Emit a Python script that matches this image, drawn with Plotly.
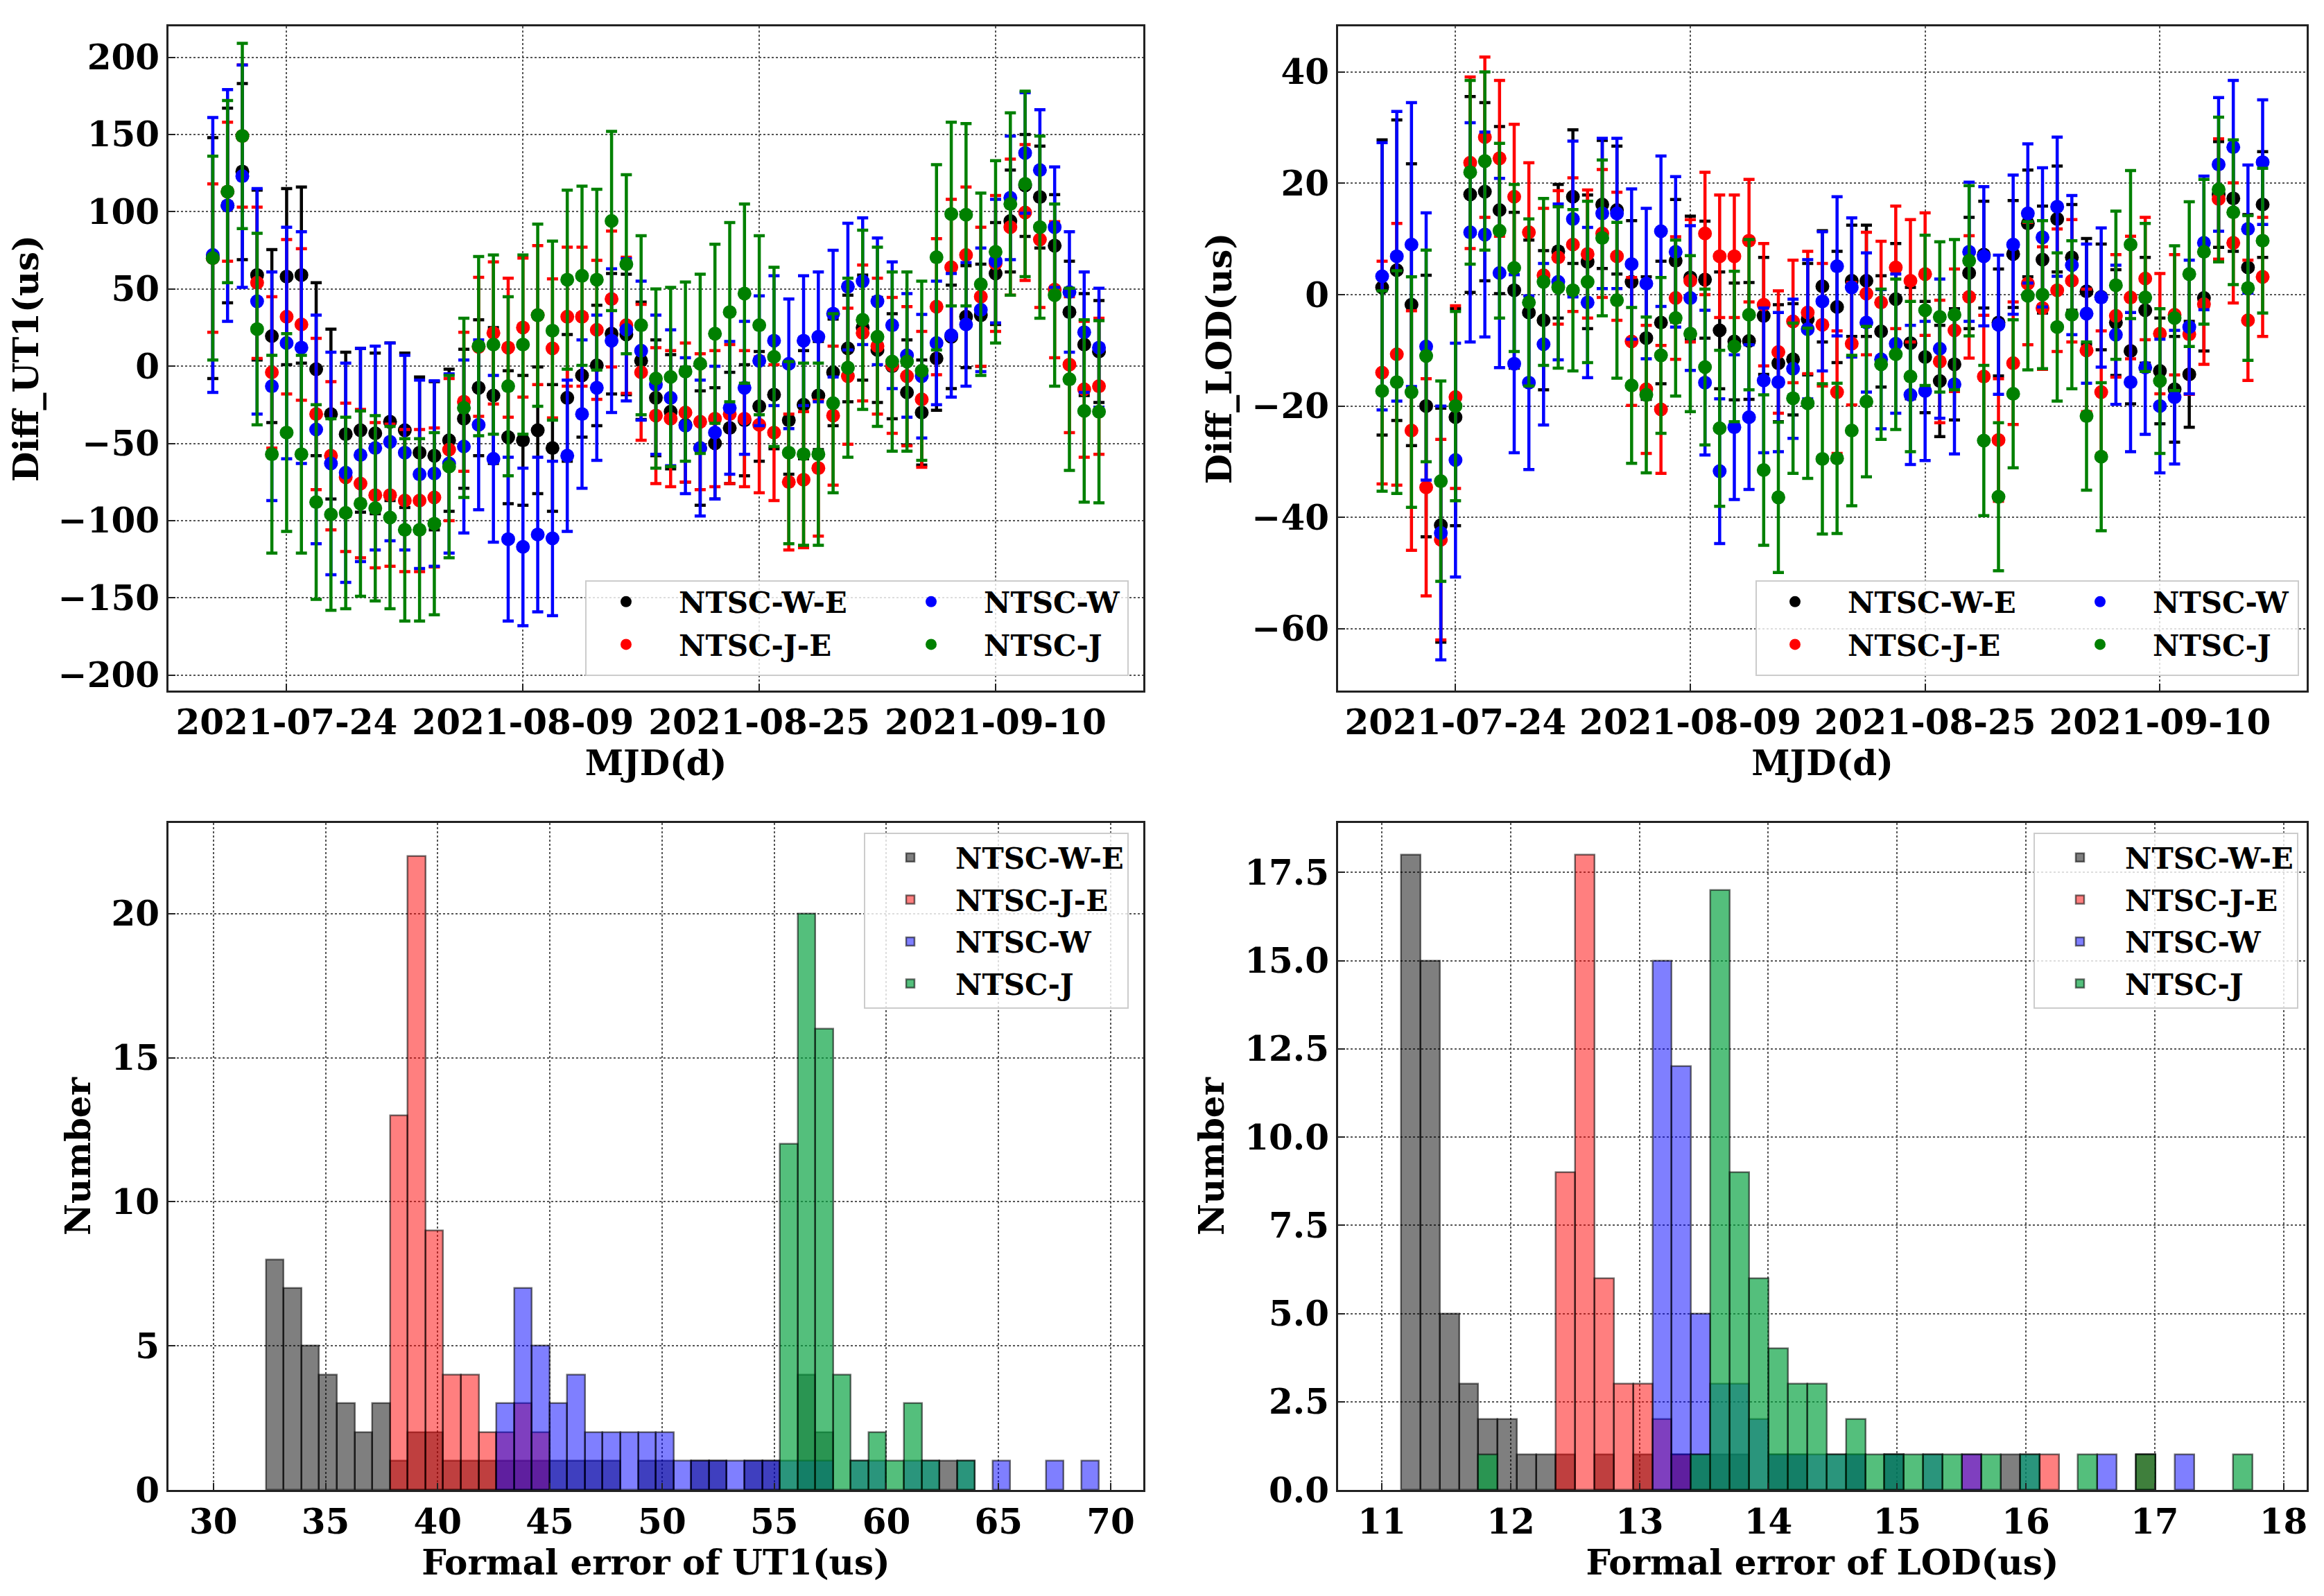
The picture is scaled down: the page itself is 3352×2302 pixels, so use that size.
import pandas as pd
import plotly.graph_objects as go

# =============================================================================
# Data
# =============================================================================

DATES = pd.date_range("2021-07-19", "2021-09-17", freq="D")
DATE_TICKS = ["2021-07-24", "2021-08-09", "2021-08-25", "2021-09-10"]

SERIES = ["NTSC-W-E", "NTSC-J-E", "NTSC-W", "NTSC-J"]

# Diff UT1 (us)
UT1_WE = [70, 104, 126, 59, 19.5, 58, 59, -2, -31, -44,
          -41.5, -43.5, -36, -41.5, -56, -58, -48, -34, -14, -19,
          -46, -48, -41.5, -53, -20.5, -6, 0.5, 21, 20.5, 3.5,
          -20.5, -29.5, -38, -53, -50, -40, -35, -26, -18.5, -35,
          -25, -19, -4, 11.5, 25, 10.5, 0, -17, -30, 5,
          19, 32, 33, 60, 94, 117, 109.5, 78, 35, 14,
          9.5]
UT1_JE = [70, 113, 149, 54, -4, 32, 27, -31, -58, -72,
          -76, -83.5, -83.5, -87, -87, -85, -54, -23, 12.5, 21.5,
          12, 25, 33, 11.5, 32, 32, 23.5, 43.5, 26.5, -4,
          -32, -34, -30, -36, -34, -31, -34, -38, -43, -75,
          -73.5, -66, -32, -6.5, 21.5, 13, 0.5, -6.5, -21.5, 38.5,
          64, 72, 45, 66.5, 90, 99.5, 82, 49.5, 1, -15,
          -13]
UT1_W = [72, 104, 123, 42, -13, 15, 12, -41, -63, -69,
         -57.5, -53, -49, -56, -70, -69.5, -63, -52, -38, -60,
         -112, -117, -109, -111.5, -58, -31, -14, 16.5, 23.5, 10,
         -12, -20.5, -38.5, -53, -43, -27, -14, 3.5, 16.5, 1.5,
         16.5, 19, 34, 51.5, 55, 42, 26.5, 7, -6.5, 15,
         20, 27, 36.5, 68, 109, 138, 127, 90, 48, 22,
         12]
UT1_J = [70, 113, 149, 24, -57, -43, -57, -88, -96, -95,
         -89, -92, -98, -106, -106, -102, -65, -27, 13, 14,
         -13, 14, 33, 23, 56, 58.5, 56, 94, 66, 26.5,
         -8, -7, -3.5, 1.5, 21, 35, 47, 26.5, 6, -56,
         -57, -57, -24, -1, 30, 19, 3, 3, -3, 70.5,
         98.5, 98, 53, 74, 105, 118, 90, 46, -8.5, -29,
         -29.5]

ERR_UT1_WE = [78, 63, 57, 55, 56, 57, 57, 56, 55, 53,
              53, 52, 51, 50, 49, 48, 46, 45, 44, 44,
              43, 42, 41, 41, 41, 40, 39, 39, 39, 38,
              37.5, 37, 37, 37, 36, 36, 36, 35.5, 35, 35,
              35, 35, 34.5, 34.5, 34, 34, 34, 34, 34, 33.5,
              33.5, 33, 33, 33, 33, 33, 33, 33, 33, 33,
              33]
ERR_UT1_JE = [48, 45, 46, 49, 49, 50, 49, 49, 48, 48,
              48, 47, 46, 46, 46, 45, 46, 45, 45, 46,
              45, 45, 45, 45, 45, 45, 45, 44, 44, 44,
              44, 44, 45, 44, 44, 45, 44, 44, 44, 44,
              44, 44, 45, 44, 44, 44, 44, 45, 44, 44,
              44, 44, 45, 44, 44, 44, 44, 44, 44, 44,
              44]
ERR_UT1_W = [89, 75, 72, 73, 74, 75, 75, 74, 72, 71,
             69, 66, 64, 63, 61, 60, 58, 56, 55, 54,
             53, 51, 50, 50, 49, 48, 47, 46.5, 46, 45,
             45, 44, 44, 44, 43, 43, 43, 42, 42, 42,
             42, 42, 41, 41, 41, 41, 41, 40, 40, 40,
             40, 40, 40, 40, 40, 39, 39, 39, 39, 39,
             38.5]
ERR_UT1_J = [66, 59, 60, 62, 64, 64, 64, 63, 62, 62,
             60, 60, 59, 59, 59, 59, 59, 58, 58, 58,
             58, 58, 59, 58, 58, 58, 58.5, 58, 58, 58,
             58, 58, 58, 58, 58, 58, 58, 58, 58, 59,
             59, 59, 58, 58, 58, 58, 58, 58, 58, 60,
             59.5, 59, 59, 59, 59, 60, 59, 59, 59, 59,
             59]

# Diff LOD (us)
LOD_WE = [1.3, 4.4, -1.8, -20, -41.4, -22, 18, 18.5, 15.2, 0.8,
          -3.2, -4.6, 7.8, 17.6, 5.9, 16.2, 15.2, 2.3, -7.8, -5,
          6.1, 3.1, 2.7, -6.4, -8.4, -8.3, -3.8, -12.3, -11.6, -4.4,
          1.5, -2.2, 2.5, 2.5, -6.6, -0.8, -8.7, -11.2, -15.5, -12.5,
          3.9, 7.2, -5, 7.3, 12.8, 6.3, 13.6, 6.7, 0.6, -0.4,
          -5, -10.1, -2.8, -13.7, -17, -14.3, -0.6, 18, 17.3, 4.9,
          16.2]
LOD_JE = [-14, -10.7, -24.4, -34.6, -44, -18.4, 23.7, 28.3, 24.5, 17.6,
          11.2, 3.5, 6.7, 9, 7.3, 11, 6.9, -8.4, -17, -20.6,
          -0.6, 2.5, 11, 6.9, 6.9, 9.7, -1.8, -10.3, -4.8, -3.2,
          -5.4, -17.5, -8.8, 0.2, -1.4, 4.9, 2.5, 3.7, -12, -6.4,
          -0.4, -14.7, -26.1, -12.3, 2, -2.4, 0.8, 2.5, -10, -17.5,
          -3.8, -0.5, 2.9, -7, -3.6, -7.1, -1.7, 17.2, 9.3, -4.6,
          3.2]
LOD_W = [3.3, 6.9, 9, -9.3, -42.8, -29.7, 11.2, 10.8, 3.9, -12.4,
         -15.8, -8.9, 2.3, 13.6, -1.4, 14.6, 14.6, 5.5, 2, 11.4,
         7.7, -0.6, -15.8, -31.7, -23.8, -22, -15.4, -15.7, -13.3, -6.2,
         -1.2, 5.1, 1.3, -5, -11.6, -8.8, -18, -17.3, -9.7, -16.1,
         7.7, 6.9, -5.4, 9, 14.6, 10.3, 15.8, 5.3, -3.4, -0.5,
         -7.2, -15.7, -13.1, -20, -18.4, -5.8, 9.3, 23.4, 26.5, 11.8,
         23.8]
LOD_J = [-17.3, -15.7, -17.5, -11, -33.5, -20, 22, 24, 11.5, 4.8,
         -1.4, 2.3, 1.3, 0.8, 2.3, 10.2, -1, -16.3, -18, -10.9,
         -4.2, -7, -13, -24, -9.3, -3.6, -31.5, -36.4, -18.6, -19.5,
         -29.5, -29.4, -24.4, -19.2, -12.5, -10.7, -14.7, -2.8, -4, -3.6,
         6.1, -26.2, -36.3, -17.8, -0.2, 0, -5.8, -3.6, -21.8, -29.1,
         1.7, 9, -0.5, -15.5, -4.2, 3.7, 7.7, 18.9, 14.8, 1.2,
         9.7]

ERR_LOD_WE = [26.5, 27, 25.3, 23.5, 21, 19.5, 17.6, 16, 15, 14,
              13, 12.5, 12, 12, 12, 11.5, 11.5, 11, 11, 11,
              11, 11, 10.5, 10.5, 10.5, 10.5, 10.5, 10.5, 10, 10,
              10, 10, 10, 10, 10, 10, 10, 10, 10, 10,
              10, 9.6, 9.6, 9.6, 9.6, 9.6, 9.5, 9.5, 9.5, 9.5,
              9.5, 9.5, 9.5, 9.5, 9.5, 9.5, 9.5, 9.5, 9.5, 9.5,
              9.5]
ERR_LOD_JE = [20, 23.5, 21.5, 19.5, 18, 16.4, 15.4, 14.4, 14, 13,
              12.5, 12, 12, 12, 11.5, 11.5, 11.5, 11.5, 11.5, 11.5,
              11, 11, 11, 11, 11, 11, 11, 11, 11, 11,
              11, 11, 11, 11, 11, 11, 11, 11, 11, 11,
              11, 11, 11, 11, 11, 11, 11, 11, 11, 11,
              11, 11, 11, 10.8, 10.8, 10.8, 10.8, 10.8, 10.8, 10.8,
              10.7]
ERR_LOD_W = [24, 26, 25.5, 24, 22.8, 21, 19.7, 18.4, 17, 16,
             15.6, 14.5, 14, 14, 13.5, 13.5, 13.5, 13.5, 13.5, 13.5,
             13.5, 13, 13, 13, 13, 13, 13, 12.5, 12.5, 12.5,
             12.5, 12.5, 12.5, 12.5, 12.5, 12.5, 12.5, 12.5, 12.5, 12.5,
             12.5, 12.5, 12.5, 12.5, 12.5, 12.5, 12.5, 12.5, 12.5, 12.5,
             12.5, 12.5, 12, 12, 12, 12, 12, 12, 12, 11.5,
             11.2]
ERR_LOD_J = [18, 20, 20.7, 19, 18, 17, 16.5, 16, 15.7, 15,
             15, 15, 14.5, 14.5, 14.5, 14, 14, 14, 14, 14,
             14, 14, 14, 14, 13.5, 13.5, 13.5, 13.5, 13.5, 13.5,
             13.5, 13.5, 13.5, 13.5, 13.5, 13.5, 13.5, 13.5, 13.5, 13.5,
             13.5, 13.5, 13.3, 13.3, 13.3, 13.3, 13.3, 13.3, 13.3, 13.3,
             13.3, 13.3, 13.3, 13, 13, 13, 13, 13, 13, 13,
             13]

# Histogram of UT1 formal error: 50 bins of 0.79 us starting at 29.98 us
UT1_BIN_START = 29.98
UT1_BIN_WIDTH = 0.79
HIST_UT1_WE = [0, 0, 0, 8, 7, 5, 4, 3, 2, 3,
               1, 2, 2, 1, 1, 1, 1, 1, 1, 1,
               1, 1, 1, 0, 1, 1, 0, 1, 1, 0,
               1, 1, 0, 4, 2, 0, 0, 0, 0, 0,
               0, 1, 0, 0, 0, 0, 0, 0, 0, 0]
HIST_UT1_JE = [0, 0, 0, 0, 0, 0, 0, 0, 0, 0,
               13, 22, 9, 4, 4, 2, 2, 3, 2, 0,
               0, 0, 0, 0, 0, 0, 0, 0, 0, 0,
               0, 0, 0, 0, 0, 0, 0, 0, 0, 0,
               0, 0, 0, 0, 0, 0, 0, 0, 0, 0]
HIST_UT1_W = [0, 0, 0, 0, 0, 0, 0, 0, 0, 0,
              0, 0, 0, 0, 0, 0, 3, 7, 5, 3,
              4, 2, 2, 2, 2, 2, 1, 1, 1, 1,
              1, 1, 1, 1, 1, 0, 1, 1, 0, 1,
              1, 0, 1, 0, 1, 0, 0, 1, 0, 1]
HIST_UT1_J = [0, 0, 0, 0, 0, 0, 0, 0, 0, 0,
              0, 0, 0, 0, 0, 0, 0, 0, 0, 0,
              0, 0, 0, 0, 0, 0, 0, 0, 0, 0,
              0, 0, 12, 20, 16, 4, 1, 2, 1, 3,
              1, 0, 1, 0, 0, 0, 0, 0, 0, 0]

# Histogram of LOD formal error: 44 bins of 0.1502 us starting at 11.149 us
LOD_BIN_START = 11.149
LOD_BIN_WIDTH = 0.1502
HIST_LOD_WE = [18, 15, 5, 3, 2, 2, 1, 1, 1, 0,
               1, 0, 1, 0, 1, 1, 1, 1, 0, 1,
               1, 0, 0, 1, 0, 1, 0, 0, 0, 0,
               0, 1, 0, 0, 0, 0, 0, 0, 1, 0,
               0, 0, 0, 0]
HIST_LOD_JE = [0, 0, 0, 0, 0, 0, 0, 0, 9, 18,
               6, 3, 3, 2, 1, 0, 0, 0, 0, 0,
               0, 0, 0, 0, 0, 0, 0, 0, 0, 1,
               0, 0, 0, 1, 0, 0, 0, 0, 1, 0,
               0, 0, 0, 0]
HIST_LOD_W = [0, 0, 0, 0, 0, 0, 0, 0, 0, 0,
              0, 0, 0, 15, 12, 5, 3, 3, 2, 1,
              1, 1, 1, 1, 0, 1, 0, 1, 0, 1,
              0, 0, 1, 0, 0, 0, 1, 0, 0, 0,
              1, 0, 0, 0]
HIST_LOD_J = [0, 0, 0, 0, 1, 0, 0, 0, 0, 0,
              0, 0, 0, 0, 0, 1, 17, 9, 6, 4,
              3, 3, 1, 2, 1, 1, 1, 1, 1, 0,
              1, 0, 1, 0, 0, 1, 0, 0, 1, 0,
              0, 0, 0, 1]

# =============================================================================
# Style
# =============================================================================

FONT = "DejaVu Serif"
TICK_FONT = dict(family=FONT, size=50, color="black", weight="bold")
TITLE_FONT = dict(family=FONT, size=50, color="black", weight="bold")
LEGEND_FONT = dict(family=FONT, size=42, color="black", weight="bold")

POINT_COLORS = ["black", "red", "blue", "green"]
BAR_COLORS = ["rgba(0,0,0,0.5)", "rgba(255,0,0,0.5)",
              "rgba(0,0,255,0.5)", "rgba(0,160,60,0.67)"]

W, H = 3352, 2302


def axis_style(**kw):
    style = dict(showline=True, linecolor="#222222", linewidth=3, mirror=True,
                 showgrid=True, gridcolor="#555555", gridwidth=2, griddash="dot",
                 ticks="inside", ticklen=10, tickwidth=2, tickcolor="#222222",
                 tickfont=TICK_FONT, zeroline=False, automargin=False)
    style.update(kw)
    return style


def px_x(p):
    return p / W


def px_y(p):
    return 1 - p / H


# =============================================================================
# Functions
# =============================================================================

def add_points(fig, values, errors, xaxis, yaxis, legends):
    for i, (name, color, val, err) in enumerate(zip(SERIES, POINT_COLORS, values, errors)):
        fig.add_trace(go.Scatter(
            x=DATES, y=val, mode="markers", name=name,
            marker=dict(color=color, size=20),
            error_y=dict(type="data", array=err, visible=True, color=color,
                         thickness=4.5, width=8),
            xaxis=xaxis, yaxis=yaxis,
            legend=legends[i // 2], legendgroup=xaxis + name,
        ))


def add_hist(fig, start, width, counts, xaxis, yaxis, legend):
    for name, color, cnt in zip(SERIES, BAR_COLORS, counts):
        xs = [start + (i + 0.5) * width for i, c in enumerate(cnt) if c > 0]
        ys = [c for c in cnt if c > 0]
        fig.add_trace(go.Bar(
            x=xs, y=ys, width=width, name=name,
            marker=dict(color=color, line=dict(color="rgba(0,0,0,0.55)", width=2.5)),
            xaxis=xaxis, yaxis=yaxis, legend=legend, legendgroup=xaxis + name,
        ))


def point_legend(x_left):
    return dict(x=x_left, xanchor="left", y=px_y(826), yanchor="top",
                bgcolor="rgba(0,0,0,0)", borderwidth=0, font=LEGEND_FONT,
                itemwidth=142, tracegroupgap=4)


def hist_legend(x_right):
    return dict(x=x_right, xanchor="right", y=px_y(1193), yanchor="top",
                bgcolor="rgba(255,255,255,0.8)", bordercolor="#cccccc", borderwidth=2,
                font=LEGEND_FONT, itemwidth=120, tracegroupgap=3)


def legend_box(x0, x1, y0, y1):
    return dict(type="rect", xref="paper", yref="paper",
                x0=px_x(x0), x1=px_x(x1), y0=px_y(y1), y1=px_y(y0),
                fillcolor="rgba(255,255,255,0.8)", line=dict(color="#cccccc", width=2),
                layer="above")


def get_graph():
    fig = go.Figure()

    add_points(fig, [UT1_WE, UT1_JE, UT1_W, UT1_J],
               [ERR_UT1_WE, ERR_UT1_JE, ERR_UT1_W, ERR_UT1_J],
               "x", "y", ["legend", "legend2"])
    add_points(fig, [LOD_WE, LOD_JE, LOD_W, LOD_J],
               [ERR_LOD_WE, ERR_LOD_JE, ERR_LOD_W, ERR_LOD_J],
               "x2", "y2", ["legend3", "legend4"])
    add_hist(fig, UT1_BIN_START, UT1_BIN_WIDTH,
             [HIST_UT1_WE, HIST_UT1_JE, HIST_UT1_W, HIST_UT1_J], "x3", "y3", "legend5")
    add_hist(fig, LOD_BIN_START, LOD_BIN_WIDTH,
             [HIST_LOD_WE, HIST_LOD_JE, HIST_LOD_W, HIST_LOD_J], "x4", "y4", "legend6")

    left = [px_x(235), px_x(1641)]
    right = [px_x(1922), px_x(3319)]
    top = [px_y(988), px_y(30)]
    bottom = [px_y(2141), px_y(1179)]

    date_axis = dict(type="date", range=["2021-07-16", "2021-09-20"],
                     tickvals=DATE_TICKS, tickformat="%Y-%m-%d",
                     title=dict(text="MJD(d)", font=TITLE_FONT, standoff=10))

    fig.update_layout(
        width=W, height=H,
        margin=dict(l=0, r=0, t=0, b=0),
        paper_bgcolor="white", plot_bgcolor="white",
        barmode="overlay", bargap=0,
        showlegend=True,
        xaxis=axis_style(domain=left, anchor="y", **date_axis),
        yaxis=axis_style(domain=top, anchor="x", range=[-210, 220], dtick=50,
                         title=dict(text="Diff_UT1(us)", font=TITLE_FONT, standoff=75)),
        xaxis2=axis_style(domain=right, anchor="y2", **date_axis),
        yaxis2=axis_style(domain=top, anchor="x2", range=[-71.1, 48.2], dtick=20,
                          title=dict(text="Diff_LOD(us)", font=TITLE_FONT, standoff=14)),
        xaxis3=axis_style(domain=left, anchor="y3", range=[28.0, 71.45], dtick=5,
                          title=dict(text="Formal error of UT1(us)", font=TITLE_FONT, standoff=10)),
        yaxis3=axis_style(domain=bottom, anchor="x3", range=[0, 23.15], dtick=5,
                          title=dict(text="Number", font=TITLE_FONT, standoff=14)),
        xaxis4=axis_style(domain=right, anchor="y4", range=[10.66, 18.18], dtick=1,
                          title=dict(text="Formal error of LOD(us)", font=TITLE_FONT, standoff=10)),
        yaxis4=axis_style(domain=bottom, anchor="x4", range=[0, 18.9], dtick=2.5,
                          tickformat=".1f",
                          title=dict(text="Number", font=TITLE_FONT, standoff=14)),
        legend=point_legend(px_x(819)),
        legend2=point_legend(px_x(1259)),
        legend3=point_legend(px_x(2505)),
        legend4=point_legend(px_x(2945)),
        legend5=hist_legend(px_x(1620)),
        legend6=hist_legend(px_x(3307)),
        shapes=[legend_box(837, 1619, 830, 966),
                legend_box(2525, 3307, 830, 966)],
    )
    return fig


def save_graph(fig, output):
    fig.write_html(output)


# =============================================================================
# Main
# =============================================================================

fig = get_graph()
save_graph(fig, "out.html")
